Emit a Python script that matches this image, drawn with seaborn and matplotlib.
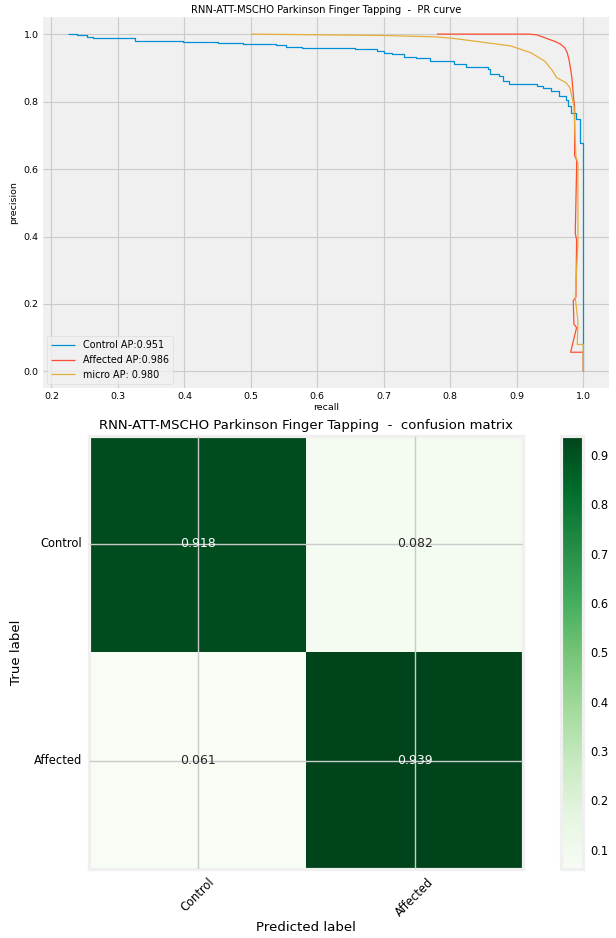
import matplotlib
matplotlib.use('Agg')
import matplotlib.pyplot as plt
import pandas as pd
import seaborn as sns

plt.style.use('fivethirtyeight')
plt.rcParams['font.family'] = ['DejaVu Sans']

title_base = 'RNN-ATT-MSCHO Parkinson Finger Tapping'
classes = ['Control', 'Affected']

# PR curves (recall, precision)
control_recall = [0.2255, 0.238, 0.253, 0.262, 0.325, 0.398, 0.450, 0.488, 0.538, 0.553,
                  0.577, 0.657, 0.690, 0.701, 0.713, 0.731, 0.749, 0.770, 0.806, 0.823,
                  0.856, 0.859, 0.874, 0.880, 0.888, 0.930, 0.940, 0.951, 0.963, 0.974,
                  0.977, 0.982, 0.989, 0.995, 1.0]
control_precision = [1.0, 0.997, 0.992, 0.988, 0.980, 0.977, 0.973, 0.970, 0.967, 0.963,
                     0.958, 0.955, 0.950, 0.945, 0.940, 0.933, 0.928, 0.920, 0.910, 0.902,
                     0.896, 0.881, 0.876, 0.861, 0.851, 0.846, 0.840, 0.831, 0.816, 0.806,
                     0.786, 0.766, 0.748, 0.677, 0.0]

affected_recall = [0.780, 0.918, 0.930, 0.948, 0.958, 0.966, 0.972, 0.976, 0.979, 0.981,
                   0.983, 0.984, 0.986, 0.987, 0.987, 0.990, 0.990, 0.988, 0.990, 0.989,
                   0.985, 0.986, 0.990, 0.981, 1.0, 1.0]
affected_precision = [1.0, 1.0, 0.998, 0.985, 0.978, 0.970, 0.960, 0.945, 0.920, 0.896,
                      0.870, 0.846, 0.800, 0.786, 0.640, 0.627, 0.600, 0.410, 0.390, 0.220,
                      0.210, 0.140, 0.130, 0.057, 0.057, 0.0]

micro_recall = [0.50, 0.60, 0.70, 0.776, 0.802, 0.841, 0.891, 0.921, 0.942, 0.954,
                0.960, 0.974, 0.980, 0.986, 0.989, 0.992, 0.992, 0.988, 0.992, 0.991,
                1.0, 1.0]
micro_precision = [1.0, 0.998, 0.996, 0.992, 0.988, 0.978, 0.965, 0.945, 0.920, 0.891,
                   0.871, 0.856, 0.841, 0.786, 0.637, 0.617, 0.378, 0.219, 0.149, 0.080,
                   0.080, 0.0]

ap_control = 0.951
ap_affected = 0.986
ap_micro = 0.980

cm = [[0.918, 0.082],
      [0.061, 0.939]]

fig = plt.figure(figsize=(6.16, 9.38), dpi=100, facecolor='white')

#%% PR curve
ax1 = fig.add_axes([0.0693, 0.586, 0.9193, 0.3956])
sns.lineplot(x=control_recall, y=control_precision, sort=False, estimator=None,
             drawstyle='steps-post', color='#008fd5', lw=0.9,
             label='Control AP:%.3f' % ap_control, ax=ax1)
sns.lineplot(x=affected_recall, y=affected_precision, sort=False, estimator=None,
             color='#fc4f30', lw=0.9, label='Affected AP:%.3f' % ap_affected, ax=ax1)
sns.lineplot(x=micro_recall, y=micro_precision, sort=False, estimator=None,
             color='#e5ae38', lw=0.9, label='micro AP: %.3f' % ap_micro, ax=ax1)
ax1.set_xticks([0.2, 0.3, 0.4, 0.5, 0.6, 0.7, 0.8, 0.9, 1.0])
ax1.set_yticks([0.0, 0.2, 0.4, 0.6, 0.8, 1.0])
ax1.grid(True, color='#cbcbcb', lw=0.8)
ax1.tick_params(labelsize=6.8, pad=3)
ax1.set_xlabel('recall', fontsize=6.8, labelpad=1)
ax1.set_ylabel('precision', fontsize=6.8, labelpad=4)
ax1.set_title(title_base + '  -  PR curve', fontsize=7.2, pad=3)
leg = ax1.legend(loc='lower left', fontsize=6.9, frameon=True, handlelength=2.5)
leg.get_frame().set_facecolor('#f0f0f0')
leg.get_frame().set_edgecolor('#dcdcdc')
leg.get_frame().set_linewidth(0.6)
for s in ax1.spines.values():
    s.set_visible(False)

#%% confusion matrix
ax2 = fig.add_axes([0.1445, 0.0736, 0.7053, 0.4621])
cax = fig.add_axes([0.9115, 0.0736, 0.0349, 0.4621])
cm_df = pd.DataFrame(cm, index=classes, columns=classes)
sns.heatmap(cm_df, annot=True, fmt='.3f', cmap='Greens', ax=ax2, cbar_ax=cax,
            annot_kws={'size': 9})
ax2.set_axisbelow(False)
ax2.grid(True, color='#cbcbcb', lw=1.0)
ax2.set_xticklabels(classes, rotation=45, ha='center', fontsize=8.3)
ax2.set_yticklabels(classes, rotation=0, fontsize=8.3, va='center')
ax2.tick_params(length=0, pad=5)
ax2.set_xlabel('Predicted label', fontsize=9.6, labelpad=1)
ax2.set_ylabel('True label', fontsize=9.6, labelpad=8)
ax2.set_title(title_base + '  -  confusion matrix', fontsize=9.5, pad=5)
for s in ax2.spines.values():
    s.set_visible(True)
    s.set_color('#f0f0f0')
    s.set_linewidth(2.3)

cbar = ax2.collections[0].colorbar
cbar.set_ticks([0.1, 0.2, 0.3, 0.4, 0.5, 0.6, 0.7, 0.8, 0.9])
cbar.ax.tick_params(labelsize=8.3, length=0, pad=5)
cbar.outline.set_visible(True)
cbar.outline.set_edgecolor('#f0f0f0')
cbar.outline.set_linewidth(2.3)

fig.savefig('out.png', dpi=100, facecolor='white')
